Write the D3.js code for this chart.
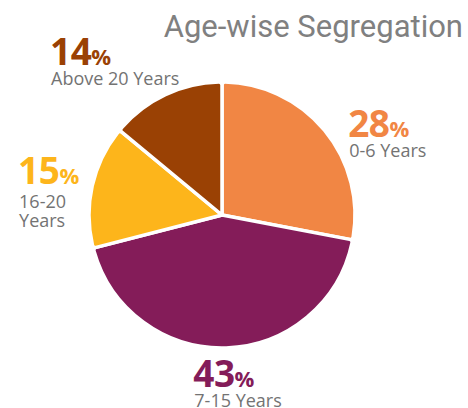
<!DOCTYPE html>
<html lang="en">
<head>
  <meta charset="UTF-8">
  <title>Age-wise Segregation</title>
  <style>
    * { margin: 0; padding: 0; box-sizing: border-box; }
    body { background: #fff; }
    #chart { width: 468px; height: 408px; }
  </style>
</head>
<body>
  <div id="chart"></div>
  <script src="https://d3js.org/d3.v7.min.js"></script>
  <script>
    // Data
    const labels = ["0-6 Years", "7-15 Years", "16-20 Years", "Above 20 Years"];
    const values = [28, 43, 15, 14];
    const colors = ["#F18644", "#841C59", "#FDB51B", "#9A4104"];

    // label lines (how the category text wraps)
    const labelLines = [["0-6 Years"], ["7-15 Years"], ["16-20", "Years"], ["Above 20 Years"]];
    // nudges from the label anchor on the outer ring, and gap to the first text line
    const nudges = [[-4, 30], [-34, 3], [-39, 6], [-100, 3]];
    const firstGap = [20, 20, 24, 20];

    const width = 468, height = 408;
    const cx = 222, cy = 215, radius = 133;

    const svg = d3.select("#chart").append("svg")
      .attr("width", width)
      .attr("height", height);

    // title
    svg.append("text")
      .attr("x", 463)
      .attr("y", 37)
      .attr("text-anchor", "end")
      .attr("font-family", "Roboto, sans-serif")
      .attr("font-size", 31)
      .attr("fill", "#808080")
      .text("Age-wise Segregation");

    const pie = d3.pie().sort(null).value(d => d);
    const arcs = pie(values);

    const arc = d3.arc()
      .innerRadius(0)
      .outerRadius(radius)
      .cornerRadius(3);

    const g = svg.append("g").attr("transform", `translate(${cx},${cy})`);

    g.selectAll("path")
      .data(arcs)
      .join("path")
      .attr("d", arc)
      .attr("fill", (d, i) => colors[i])
      .attr("stroke", "#fff")
      .attr("stroke-width", 3.5)
      .attr("stroke-linejoin", "round");

    // labels placed around the pie
    const labelArc = d3.arc().innerRadius(radius + 36).outerRadius(radius + 36);

    const lab = g.selectAll("g.lab")
      .data(arcs)
      .join("g")
      .attr("class", "lab")
      .attr("transform", (d, i) => {
        const [x, y] = labelArc.centroid(d);
        return `translate(${x + nudges[i][0]},${y + nudges[i][1]})`;
      });

    const pct = lab.append("text")
      .attr("font-family", "'Open Sans', sans-serif")
      .attr("font-weight", 700)
      .attr("fill", (d, i) => colors[i]);
    pct.append("tspan")
      .attr("font-size", 37)
      .attr("letter-spacing", -0.5)
      .text(d => d.data);
    pct.append("tspan")
      .attr("font-size", 22)
      .text("%");

    lab.each(function(d, i) {
      const t = d3.select(this).append("text")
        .attr("font-family", "'Open Sans', sans-serif")
        .attr("font-size", 18)
        .attr("fill", "#737373");
      labelLines[i].forEach((line, k) => {
        t.append("tspan")
          .attr("x", 1)
          .attr("y", firstGap[i] + k * 19)
          .text(line);
      });
    });
  </script>
</body>
</html>
